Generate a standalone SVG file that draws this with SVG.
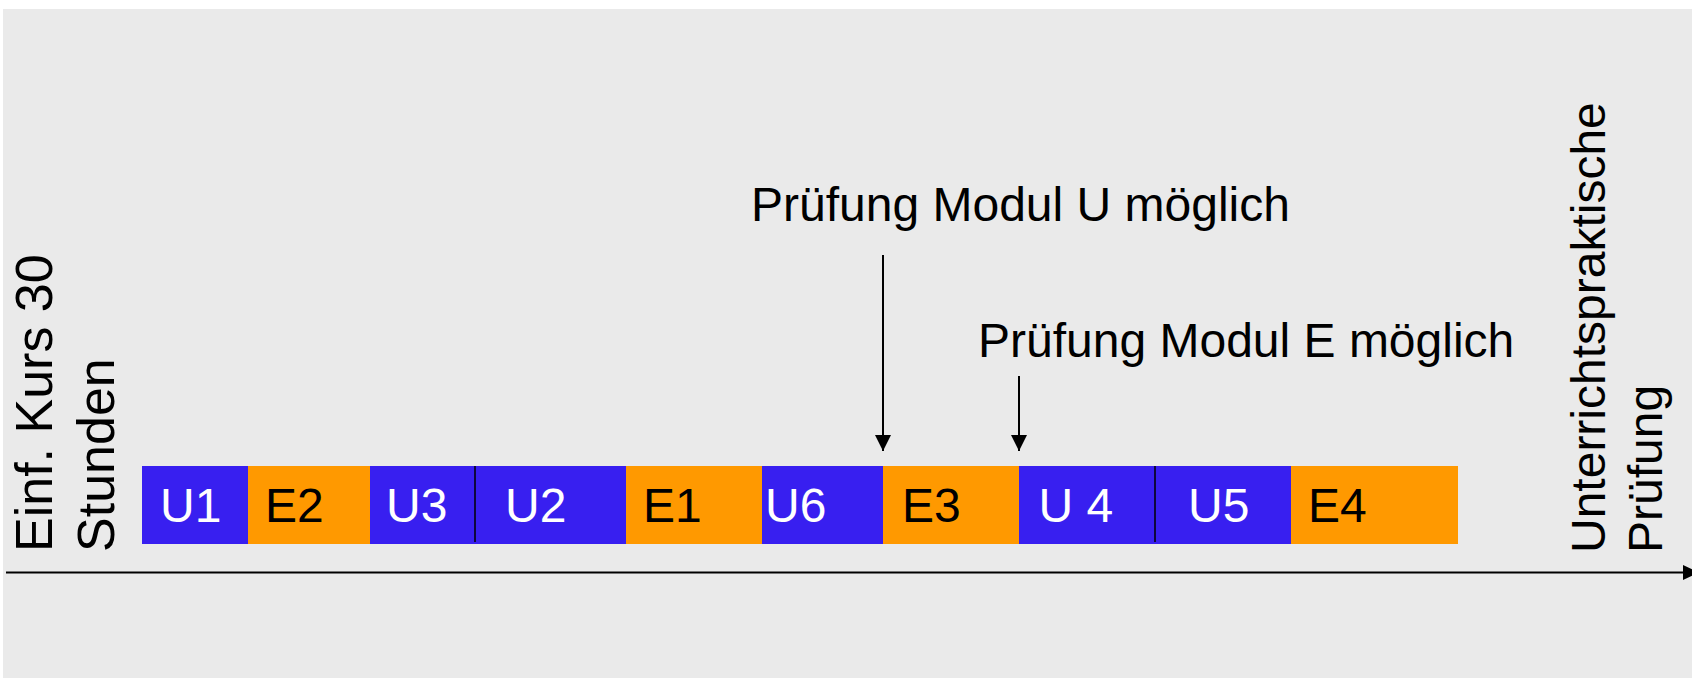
<svg xmlns="http://www.w3.org/2000/svg" width="1692" height="678" viewBox="0 0 1692 678">
<defs>
<style>
.t{font-family:"Liberation Sans",Arial,sans-serif;fill:#000}
.lbl{font-size:48px}
.w{fill:#fff}
.u{fill:#381FF0}
.e{fill:#FF9900}
.ln{stroke:#000;stroke-width:2;fill:none}
.sep{stroke:#000;stroke-width:1.5}
</style>
<marker id="ah" markerWidth="16" markerHeight="16" viewBox="0 0 16 16" refX="16" refY="8" orient="auto" markerUnits="userSpaceOnUse">
<path d="M0,0 L16,8 L0,16 Z" fill="#000"/>
</marker>
</defs>
<rect x="0" y="0" width="1692" height="678" fill="#fff"/>
<rect x="3" y="9" width="1689" height="669" fill="#EAEAEA"/>

<g id="bar">
<g id="n-U1"><rect class="u" x="142" y="466" width="106" height="78"/><text class="t lbl w" x="160" y="522">U1</text></g>
<g id="n-E2"><rect class="e" x="248" y="466" width="122" height="78"/><text class="t lbl" x="265" y="522">E2</text></g>
<g id="n-U3"><rect class="u" x="370" y="466" width="105" height="78"/><text class="t lbl w" x="386" y="522">U3</text></g>
<g id="n-U2"><rect class="u" x="475" y="466" width="151" height="78"/><text class="t lbl w" x="505" y="522">U2</text></g>
<g id="n-E1"><rect class="e" x="626" y="466" width="136" height="78"/><text class="t lbl" x="643" y="522">E1</text></g>
<g id="n-U6"><rect class="u" x="762" y="466" width="121" height="78"/><text class="t lbl w" x="765" y="522">U6</text></g>
<g id="n-E3"><rect class="e" x="883" y="466" width="136" height="78"/><text class="t lbl" x="902" y="522">E3</text></g>
<g id="n-U4"><rect class="u" x="1019" y="466" width="137" height="78"/><text class="t lbl w" x="1038.5" y="522">U 4</text></g>
<g id="n-U5"><rect class="u" x="1156" y="466" width="135" height="78"/><text class="t lbl w" x="1188" y="522">U5</text></g>
<g id="n-E4"><rect class="e" x="1291" y="466" width="167" height="78"/><text class="t lbl" x="1308" y="522">E4</text></g>
<line class="sep" x1="475" y1="466" x2="475" y2="542"/>
<line class="sep" x1="1155" y1="466" x2="1155" y2="542"/>
</g>

<g id="n-start"><text class="t" font-size="52" transform="translate(51.5,552) rotate(-90)"><tspan x="0" y="0">Einf. Kurs 30</tspan><tspan x="0" y="62.4">Stunden</tspan></text></g>
<g id="n-end"><text class="t" font-size="48" transform="translate(1604.5,553) rotate(-90)"><tspan x="0" y="0">Unterrichtspraktische</tspan><tspan x="0" y="57.6">Prüfung</tspan></text></g>
<g id="n-pu"><text class="t lbl" x="751" y="221">Prüfung Modul U möglich</text></g>
<g id="n-pe"><text class="t lbl" x="978" y="357">Prüfung Modul E möglich</text></g>

<g id="connectors">
<line class="ln" x1="6" y1="572.5" x2="1683" y2="572.5"/>
<path d="M1683,565 L1699,572.5 L1683,580 Z" fill="#000"/>
<line class="ln" x1="883" y1="255" x2="883" y2="451" marker-end="url(#ah)"/>
<line class="ln" x1="1019" y1="376" x2="1019" y2="451" marker-end="url(#ah)"/>
</g>
</svg>
